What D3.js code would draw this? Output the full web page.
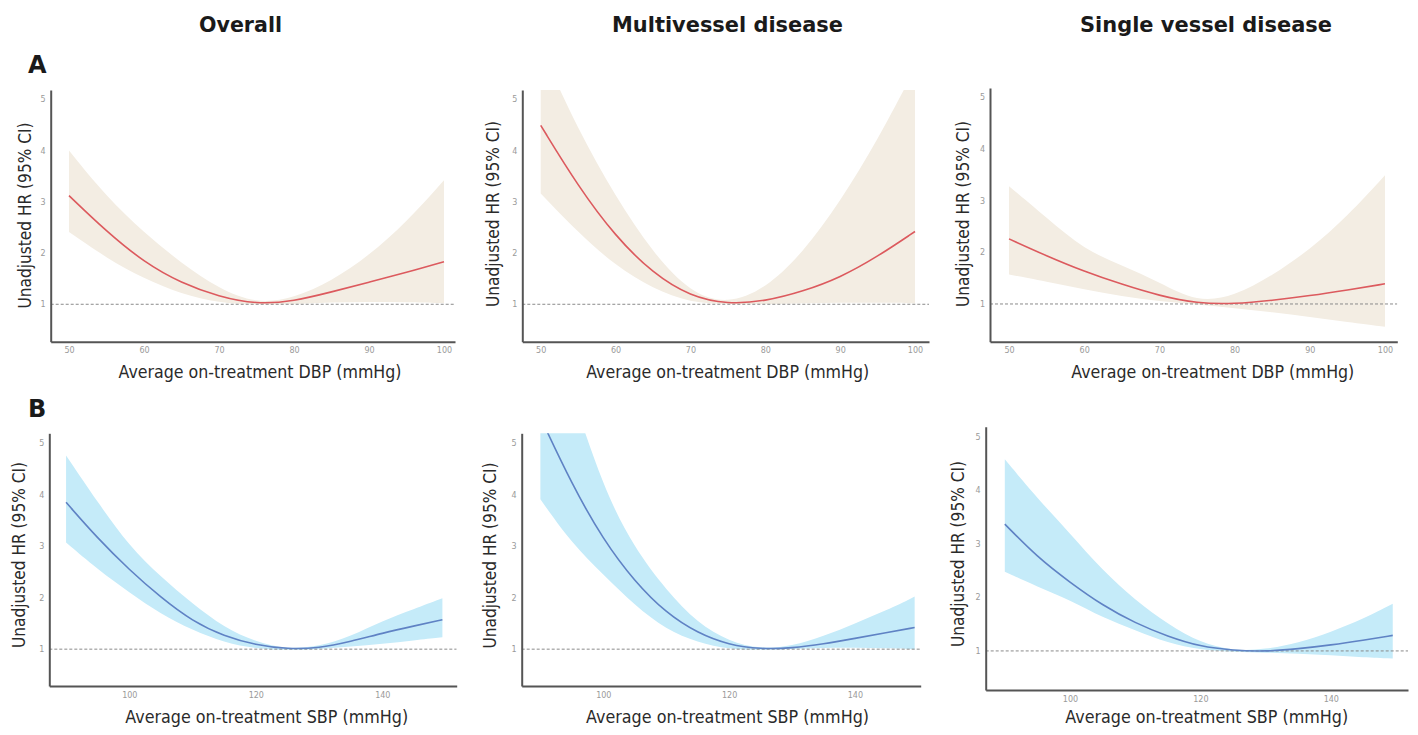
<!DOCTYPE html>
<html>
<head>
<meta charset="utf-8">
<script src="https://cdn.jsdelivr.net/npm/d3@7"></script>
<style>
  body { margin: 0; background: #fff; }
  text { font-family: "DejaVu Sans", Verdana, sans-serif; }
</style>
</head>
<body>
<script>
// column headers and row letters
const columnTitles = ['Overall', 'Multivessel disease', 'Single vessel disease'];
const rowLetters = ['A', 'B'];

// x grids
const dbpX = [50, 55, 60, 65, 70, 75, 80, 85, 90, 95, 100];
const sbpX = [90, 95, 100, 105, 110, 115, 120, 125, 130, 135, 140, 145, 149.5];

// tick labels
const dbpTicks = [50, 60, 70, 80, 90, 100];
const sbpTicks = [100, 120, 140];
const hrTicks = [1, 2, 3, 4, 5];

// A: DBP, overall
const dbpOverallHR    = [3.12, 2.42, 1.82, 1.41, 1.15, 1.0, 1.06, 1.24, 1.43, 1.62, 1.83];
const dbpOverallUpper = [4.0, 3.1, 2.4, 1.8, 1.3, 1.01, 1.12, 1.45, 1.95, 2.6, 3.42];
const dbpOverallLower = [2.41, 1.9, 1.5, 1.2, 1.03, 0.99, 1.0, 1.04, 1.05, 1.04, 1.02];

// A: DBP, multivessel
const dbpMultiHR    = [4.49, 3.3, 2.32, 1.6, 1.15, 1.0, 1.06, 1.25, 1.52, 1.93, 2.42];
const dbpMultiUpper = [6.0, 4.4, 3.1, 2.0, 1.22, 1.0, 1.3, 2.0, 3.0, 4.2, 5.6];
const dbpMultiLower = [3.16, 2.4, 1.75, 1.3, 1.03, 1.0, 1.0, 1.02, 1.03, 1.03, 1.02];

// A: DBP, single vessel
const dbpSingleHR    = [2.26, 1.93, 1.63, 1.38, 1.16, 1.01, 1.0, 1.07, 1.16, 1.27, 1.39];
const dbpSingleUpper = [3.28, 2.67, 2.05, 1.75, 1.42, 1.03, 1.15, 1.55, 2.05, 2.7, 3.49];
const dbpSingleLower = [1.57, 1.43, 1.28, 1.15, 1.05, 0.99, 0.92, 0.84, 0.75, 0.65, 0.56];

// B: SBP, overall
const sbpOverallHR    = [3.85, 3.15, 2.54, 2.0, 1.54, 1.25, 1.08, 1.0, 1.02, 1.15, 1.31, 1.45, 1.57];
const sbpOverallUpper = [4.76, 3.85, 3.0, 2.4, 1.88, 1.42, 1.14, 1.0, 1.05, 1.25, 1.55, 1.78, 1.99];
const sbpOverallLower = [3.07, 2.55, 2.1, 1.68, 1.37, 1.13, 1.01, 0.98, 1.0, 1.05, 1.1, 1.17, 1.23];

// B: SBP, multivessel
const sbpMultiHR    = [5.5, 4.2, 3.12, 2.31, 1.7, 1.31, 1.08, 1.0, 1.02, 1.1, 1.21, 1.32, 1.42];
const sbpMultiUpper = [7.5, 6.0, 4.12, 2.95, 2.15, 1.5, 1.15, 1.0, 1.06, 1.25, 1.5, 1.75, 2.02];
const sbpMultiLower = [3.91, 3.05, 2.45, 1.85, 1.38, 1.13, 1.0, 0.98, 1.0, 1.03, 1.03, 1.02, 1.0];

// B: SBP, single vessel
const sbpSingleHR    = [3.37, 2.75, 2.28, 1.85, 1.52, 1.27, 1.08, 1.01, 0.99, 1.04, 1.11, 1.2, 1.29];
const sbpSingleUpper = [4.58, 3.85, 3.2, 2.5, 1.95, 1.5, 1.15, 1.0, 1.03, 1.15, 1.35, 1.6, 1.88];
const sbpSingleLower = [2.48, 2.2, 1.95, 1.62, 1.39, 1.15, 1.02, 0.98, 0.97, 0.95, 0.92, 0.88, 0.86];

const xLabels = ['Average on-treatment DBP (mmHg)', 'Average on-treatment SBP (mmHg)'];
const yLabel = 'Unadjusted HR (95% CI)';

// per-panel frame: axis box in px, and the value extent of each axis
const panels = [
  { row: 0, xs: dbpX, ticks: dbpTicks, hr: dbpOverallHR, up: dbpOverallUpper, lo: dbpOverallLower,
    l: 50.7, r: 455, t: 90, b: 341.7, xd: [47.56, 101.47], yd: [0.27, 5.18], xl: [260, 377.5], yl: [25, 215.5] },
  { row: 0, xs: dbpX, ticks: dbpTicks, hr: dbpMultiHR, up: dbpMultiUpper, lo: dbpMultiLower,
    l: 522.3, r: 929, t: 90, b: 341.7, xd: [47.54, 101.87], yd: [0.27, 5.18], xl: [727.7, 377.5], yl: [493, 214] },
  { row: 0, xs: dbpX, ticks: dbpTicks, hr: dbpSingleHR, up: dbpSingleUpper, lo: dbpSingleLower,
    l: 990, r: 1397.3, t: 88, b: 341.7, xd: [47.47, 101.64], yd: [0.27, 5.18], xl: [1212.8, 378], yl: [963, 214] },
  { row: 1, xs: sbpX, ticks: sbpTicks, hr: sbpOverallHR, up: sbpOverallUpper, lo: sbpOverallLower,
    l: 49.3, r: 456.7, t: 433.3, b: 686, xd: [87.35, 151.76], yd: [0.285, 5.19], xl: [266.7, 723.3], yl: [19, 555] },
  { row: 1, xs: sbpX, ticks: sbpTicks, hr: sbpMultiHR, up: sbpMultiUpper, lo: sbpMultiLower,
    l: 521.7, r: 920.7, t: 433.3, b: 686, xd: [87.03, 150.46], yd: [0.285, 5.19], xl: [727.5, 723.3], yl: [490, 555.5] },
  { row: 1, xs: sbpX, ticks: sbpTicks, hr: sbpSingleHR, up: sbpSingleUpper, lo: sbpSingleLower,
    l: 985.7, r: 1408, t: 426.7, b: 690, xd: [87.07, 151.84], yd: [0.27, 5.19], xl: [1206.7, 723.3], yl: [958, 554] }
];

const ribbonColor = ['#f3ede3', '#c5ebf9'];
const lineColor = ['#dc5a5e', '#5f82c4'];

const svg = d3.select('body')
  .append('svg')
  .attr('width', 1418)
  .attr('height', 735)
  .style('display', 'block');

// column titles
const titleX = [240.5, 727.5, 1206];
const titleW = [83, 231, 252];
svg.selectAll('text.title')
  .data(columnTitles)
  .enter()
  .append('text')
  .attr('class', 'title')
  .attr('x', (d, i) => titleX[i])
  .attr('y', 31.5)
  .attr('text-anchor', 'middle')
  .attr('textLength', (d, i) => titleW[i])
  .attr('lengthAdjust', 'spacingAndGlyphs')
  .style('font-size', '21px')
  .style('font-weight', 'bold')
  .style('fill', '#1a1a1a')
  .text(d => d);

svg.selectAll('text.letter')
  .data(rowLetters)
  .enter()
  .append('text')
  .attr('class', 'letter')
  .attr('x', 28)
  .attr('y', (d, i) => i === 0 ? 73 : 417)
  .style('font-size', '24px')
  .style('font-weight', 'bold')
  .style('fill', '#1a1a1a')
  .text(d => d);

panels.forEach((p, k) => {
  let x = d3.scaleLinear().domain(p.xd).range([p.l, p.r]);
  let y = d3.scaleLinear().domain(p.yd).range([p.b, p.t]);

  let g = svg.append('g');

  let clipId = 'clip' + k;
  g.append('clipPath')
    .attr('id', clipId)
    .append('rect')
    .attr('x', p.l)
    .attr('y', p.t)
    .attr('width', p.r - p.l)
    .attr('height', p.b - p.t);

  let rows = p.xs.map((v, i) => ({ x: v, hr: p.hr[i], up: p.up[i], lo: p.lo[i] }));

  let plot = g.append('g').attr('clip-path', `url(#${clipId})`);

  plot.append('path')
    .datum(rows)
    .attr('d', d3.area()
      .curve(d3.curveBasis)
      .x(d => x(d.x))
      .y0(d => y(d.lo))
      .y1(d => y(d.up)))
    .style('fill', ribbonColor[p.row]);

  // reference line at HR = 1
  plot.append('line')
    .attr('x1', p.l)
    .attr('x2', p.r)
    .attr('y1', y(1))
    .attr('y2', y(1))
    .style('stroke', '#8a8a8a')
    .style('stroke-width', 1)
    .style('stroke-dasharray', '3,2');

  plot.append('path')
    .datum(rows)
    .attr('d', d3.line()
      .curve(d3.curveBasis)
      .x(d => x(d.x))
      .y(d => y(d.hr)))
    .style('fill', 'none')
    .style('stroke', lineColor[p.row])
    .style('stroke-width', 1.6);

  let xAxis = g.append('g')
    .attr('transform', `translate(0,${p.b})`)
    .call(d3.axisBottom(x).tickValues(p.ticks).tickFormat(d3.format('d'))
      .tickSize(0).tickSizeOuter(0).tickPadding(6));

  let yAxis = g.append('g')
    .attr('transform', `translate(${p.l},0)`)
    .call(d3.axisLeft(y).tickValues(hrTicks).tickFormat(d3.format('d'))
      .tickSize(0).tickSizeOuter(0).tickPadding(5));

  [xAxis, yAxis].forEach(a => {
    a.select('.domain').style('stroke', '#555').style('stroke-width', 2);
    a.selectAll('text')
      .style('font-size', '8px')
      .style('fill', '#9a9a9a')
      .style('font-family', '"DejaVu Sans", Verdana, sans-serif');
  });

  g.append('text')
    .attr('x', p.xl[0])
    .attr('y', p.xl[1])
    .attr('text-anchor', 'middle')
    .attr('textLength', 283)
    .attr('lengthAdjust', 'spacingAndGlyphs')
    .style('font-size', '18px')
    .style('fill', '#2a2a2a')
    .text(xLabels[p.row]);

  g.append('text')
    .attr('transform', `translate(${p.yl[0]},${p.yl[1]}) rotate(-90)`)
    .attr('text-anchor', 'middle')
    .attr('dy', '0.36em')
    .attr('textLength', 186)
    .attr('lengthAdjust', 'spacingAndGlyphs')
    .style('font-size', '18px')
    .style('fill', '#2a2a2a')
    .text(yLabel);
});
</script>
</body>
</html>
